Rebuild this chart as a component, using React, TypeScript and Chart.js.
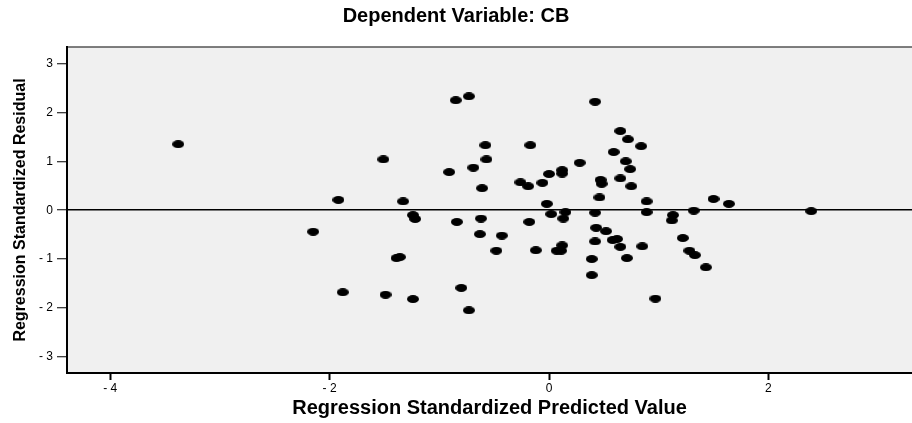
import React, { useEffect, useRef } from 'react';
import { Chart, registerables } from 'chart.js';

Chart.register(...registerables);

// Regression Standardized Predicted Value (x) and Regression Standardized Residual (y)
const predicted = [
  -3.38, -2.15, -1.92, -1.88, -1.51, -1.49, -1.39, -1.36, -1.33, -1.24,
  -1.22, -1.24, -0.91, -0.85, -0.84, -0.80, -0.73, -0.73, -0.69, -0.62,
  -0.63, -0.61, -0.58, -0.57, -0.48, -0.43, -0.26, -0.19, -0.18, -0.17,
  -0.12, -0.06, -0.02, 0.00, 0.02, 0.12, 0.12, 0.15, 0.13, 0.12,
  0.07, 0.11, 0.28, 0.39, 0.39, 0.42, 0.42, 0.43, 0.42, 0.46,
  0.47, 0.48, 0.52, 0.58, 0.62, 0.59, 0.65, 0.65, 0.65, 0.70,
  0.71, 0.72, 0.74, 0.75, 0.84, 0.85, 0.89, 0.89, 0.97, 1.13,
  1.12, 1.22, 1.28, 1.33, 1.32, 1.43, 1.50, 1.64, 2.39,
];
const residual = [
  1.35, -0.44, 0.21, -1.68, 1.04, -1.73, -0.98, -0.96, 0.18, -0.10,
  -0.18, -1.82, 0.78, 2.25, -0.24, -1.59, 2.33, -2.05, 0.87, -0.17,
  -0.49, 0.45, 1.33, 1.04, -0.83, -0.52, 0.57, 0.49, -0.24, 1.33,
  -0.82, 0.56, 0.13, 0.74, -0.08, 0.82, 0.75, -0.04, -0.17, -0.72,
  -0.83, -0.83, 0.97, -1.00, -1.33, 2.22, -0.05, -0.36, -0.64, 0.26,
  0.62, 0.54, -0.43, -0.61, -0.59, 1.19, 1.62, 0.65, -0.75, 1.00,
  -0.98, 1.45, 0.84, 0.49, 1.31, -0.74, 0.18, -0.04, -1.81, -0.10,
  -0.21, -0.57, -0.83, -0.92, -0.01, -1.17, 0.23, 0.13, -0.02,
];

const xTickValues = [-4, -2, 0, 2];
const xTickLabels = ['- 4', '- 2', '0', '2'];
const yTickValues = [-3, -2, -1, 0, 1, 2, 3];
const yTickLabels = ['- 3', '- 2', '- 1', '0', '1', '2', '3'];
const xRange = [-4.394, 3.309];
const yRange = [-3.332, 3.34];

const chartTitle = 'Dependent Variable: CB';
const xTitle = 'Regression Standardized Predicted Value';
const yTitle = 'Regression Standardized Residual';

const FONT = "Arial, 'Liberation Sans', sans-serif";

function makeDot(): HTMLCanvasElement {
  const c = document.createElement('canvas');
  c.width = 12;
  c.height = 8;
  const g = c.getContext('2d')!;
  g.fillStyle = '#000';
  g.beginPath();
  g.ellipse(6, 4, 6, 4, 0, 0, Math.PI * 2);
  g.fill();
  return c;
}

const plotBg = {
  id: 'plotBg',
  beforeDraw(chart: any) {
    const { ctx, chartArea: a } = chart;
    ctx.save();
    ctx.fillStyle = '#f0f0f0';
    ctx.fillRect(a.left, a.top, a.right - a.left, a.bottom - a.top);
    ctx.strokeStyle = '#555';
    ctx.lineWidth = 1.5;
    ctx.beginPath();
    ctx.moveTo(a.left, a.top);
    ctx.lineTo(a.right, a.top);
    ctx.stroke();
    ctx.restore();
  },
};

export default function App() {
  const ref = useRef<HTMLCanvasElement | null>(null);

  useEffect(() => {
    if (!ref.current) return;
    const dot = makeDot();
    const points = predicted.map((x, i) => ({ x, y: residual[i] }));
    const chart = new Chart(ref.current, {
      type: 'scatter',
      data: {
        datasets: [
          {
            data: points,
            pointStyle: dot as any,
            pointRadius: 6,
            backgroundColor: '#000',
            borderColor: '#000',
          },
        ],
      },
      plugins: [plotBg],
      options: {
        animation: false,
        responsive: false,
        devicePixelRatio: 1,
        layout: { autoPadding: false, padding: { left: 0, right: 0, top: 0, bottom: 0 } },
        plugins: {
          legend: { display: false },
          tooltip: { enabled: false },
          title: {
            display: true,
            text: chartTitle,
            color: '#000',
            font: { family: FONT, size: 20, weight: 'bold' },
            padding: { top: 4, bottom: 19 },
          },
        },
        scales: {
          x: {
            type: 'linear',
            min: xRange[0],
            max: xRange[1],
            afterBuildTicks: (s: any) => {
              s.ticks = xTickValues.map((v) => ({ value: v }));
            },
            afterFit: (s: any) => {
              s.height = 50;
            },
            ticks: {
              color: '#000',
              font: { family: FONT, size: 12 },
              padding: 1,
              maxRotation: 0,
              callback: (v: any) => {
                const i = xTickValues.indexOf(Number(v));
                return i >= 0 ? xTickLabels[i] : '';
              },
            },
            grid: {
              drawOnChartArea: false,
              drawTicks: true,
              tickLength: 7,
              tickWidth: 2,
              tickColor: '#000',
            },
            border: { display: true, color: '#000', width: 2 },
            title: {
              display: true,
              text: xTitle,
              color: '#000',
              font: { family: FONT, size: 20, weight: 'bold' },
              padding: { top: 0, bottom: 3 },
            },
          },
          y: {
            type: 'linear',
            min: yRange[0],
            max: yRange[1],
            afterBuildTicks: (s: any) => {
              s.ticks = yTickValues.map((v) => ({ value: v }));
            },
            afterFit: (s: any) => {
              s.width = 67;
            },
            ticks: {
              color: '#000',
              font: { family: FONT, size: 12 },
              padding: 4,
              callback: (v: any) => {
                const i = yTickValues.indexOf(Number(v));
                return i >= 0 ? yTickLabels[i] : '';
              },
            },
            grid: {
              drawOnChartArea: true,
              drawTicks: true,
              tickLength: 10,
              tickWidth: 1,
              tickColor: '#000',
              lineWidth: 1.5,
              color: (ctx: any) =>
                ctx.tick && ctx.tick.value === 0 ? '#000' : 'rgba(0,0,0,0)',
            },
            border: { display: true, color: '#000', width: 2 },
            title: {
              display: true,
              text: yTitle,
              color: '#000',
              font: { family: FONT, size: 16, weight: 'bold' },
              padding: { top: 11, bottom: 0 },
            },
          },
        },
      },
    });
    return () => chart.destroy();
  }, []);

  return (
    <div style={{ position: 'absolute', left: 0, top: 0, width: 912, height: 423 }}>
      <canvas ref={ref} width={912} height={423} style={{ display: 'block' }} />
    </div>
  );
}
